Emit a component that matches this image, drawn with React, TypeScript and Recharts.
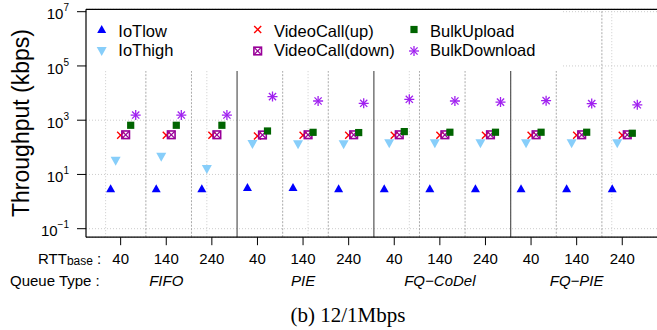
import React from "react"
import { ScatterChart, Scatter, XAxis, YAxis, CartesianGrid, ReferenceLine } from "recharts"

// 4 queue types x 3 base RTTs
const rttLabels = ["40", "140", "240", "40", "140", "240", "40", "140", "240", "40", "140", "240"]
const queueTypes = ["FIFO", "PIE", "FQ\u2212CoDel", "FQ\u2212PIE"]

// throughput in kbps, one value per group
const iotLow = [3.0, 3.0, 3.0, 3.3, 3.3, 3.0, 3.0, 3.0, 3.0, 3.0, 3.0, 3.0]
const iotHigh = [32, 45, 16, 132, 130, 130, 140, 140, 140, 140, 140, 140]
const videoUp = [280, 280, 280, 262, 280, 280, 280, 280, 280, 280, 280, 280]
const videoDown = [290, 290, 290, 285, 290, 290, 290, 290, 290, 290, 290, 290]
const bulkUp = [650, 650, 650, 400, 357, 350, 380, 360, 360, 360, 360, 330]
const bulkDown = [1550, 1550, 1550, 7400, 5100, 4200, 5900, 5100, 4650, 5250, 4100, 3700]

const yTicks = [0.1, 10, 1000, 100000, 10000000]
const xTicks = rttLabels.map((_, i) => i)
const gridX = [-0.33, 1.89, 4.11, 6.33, 8.55, 10.77]

const FONT = '"Liberation Sans", Arial, Helvetica, sans-serif'
const Y_MIN = 0.0486
const Y_MAX = 1.225e7

const TriUp = ({ cx, cy }: any) => (
  <polygon points={`${cx},${cy - 4.5} ${cx - 4.5},${cy + 3.5} ${cx + 4.5},${cy + 3.5}`} fill="#0000ff" />
)
const TriDown = ({ cx, cy }: any) => (
  <polygon points={`${cx - 5},${cy - 4} ${cx + 5},${cy - 4} ${cx},${cy + 5}`} fill="#87cefa" />
)
const Cross = ({ cx, cy }: any) => (
  <g stroke="#ff0000" strokeWidth={1.4}>
    <line x1={cx - 3.5} y1={cy - 3.5} x2={cx + 3.5} y2={cy + 3.5} />
    <line x1={cx - 3.5} y1={cy + 3.5} x2={cx + 3.5} y2={cy - 3.5} />
  </g>
)
const BoxX = ({ cx, cy }: any) => (
  <g stroke="#990099" fill="none">
    <rect x={cx - 3.8} y={cy - 3.8} width={7.6} height={7.6} strokeWidth={1.6} />
    <line x1={cx - 3.8} y1={cy - 3.8} x2={cx + 3.8} y2={cy + 3.8} strokeWidth={1.2} />
    <line x1={cx - 3.8} y1={cy + 3.8} x2={cx + 3.8} y2={cy - 3.8} strokeWidth={1.2} />
  </g>
)
const Square = ({ cx, cy }: any) => <rect x={cx - 3.6} y={cy - 3.6} width={7.2} height={7.2} fill="#006400" />
const Star = ({ cx, cy }: any) => (
  <g stroke="#a020f0" strokeWidth={1.3}>
    <line x1={cx - 5} y1={cy} x2={cx + 5} y2={cy} />
    <line x1={cx} y1={cy - 5} x2={cx} y2={cy + 5} />
    <line x1={cx - 3.6} y1={cy - 3.6} x2={cx + 3.6} y2={cy + 3.6} />
    <line x1={cx - 3.6} y1={cy + 3.6} x2={cx + 3.6} y2={cy - 3.6} />
  </g>
)

const series = [
  { name: "IoTlow", values: iotLow, Shape: TriUp },
  { name: "IoThigh", values: iotHigh, Shape: TriDown },
  { name: "VideoCall(up)", values: videoUp, Shape: Cross },
  { name: "VideoCall(down)", values: videoDown, Shape: BoxX },
  { name: "BulkUpload", values: bulkUp, Shape: Square },
  { name: "BulkDownload", values: bulkDown, Shape: Star },
]

const YTick = ({ x, y, payload }: any) => {
  const exp = Math.round(Math.log10(payload.value))
  return (
    <text x={x} y={y} textAnchor="end" fontFamily={FONT} fill="#000">
      <tspan fontSize={15} dy={7.6}>10</tspan>
      <tspan fontSize={10} dy={-8}>{exp < 0 ? `\u2212${-exp}` : exp}</tspan>
    </text>
  )
}

const XTick = ({ x, payload }: any) => {
  const i = payload.value
  return (
    <g fontFamily={FONT} fill="#000">
      <text x={x} y={263.5} textAnchor="middle" fontSize={15}>{rttLabels[i]}</text>
      {i % 3 === 1 && (
        <text x={x} y={286} textAnchor="middle" fontSize={15} fontStyle="italic">
          {queueTypes[(i - 1) / 3]}
        </text>
      )}
    </g>
  )
}

const legendCols = [
  { sx: 101.7, tx: 118.3 },
  { sx: 257.7, tx: 274 },
  { sx: 414, tx: 430 },
]

export default function App() {
  return (
    <div style={{ position: "absolute", left: 0, top: 0, width: 657, height: 330, overflow: "hidden", background: "#fff" }}>
      <ScatterChart width={680} height={330} margin={{ top: 9.3, right: 16.7, bottom: 62.8, left: 6 }}>
        <CartesianGrid vertical={false} stroke="#cccccc" strokeDasharray="1 2" />
        {gridX.map((g) => (
          <ReferenceLine key={`g${g}`} x={g} stroke="#cccccc" strokeDasharray="1 2" />
        ))}
        {xTicks.slice(0, 11).map((i) =>
          i % 3 === 2 ? (
            <ReferenceLine key={`s${i}`} x={i + 0.553} stroke="#555" strokeWidth={1.2} />
          ) : (
            <ReferenceLine key={`s${i}`} x={i + 0.553} stroke="#aaaaaa" strokeDasharray="2 1.5" />
          )
        )}
        <ReferenceLine y={Y_MAX} stroke="#000" strokeWidth={1.2} />
        <XAxis
          type="number"
          dataKey="x"
          domain={[-0.76, 11.9]}
          ticks={xTicks}
          interval={0}
          allowDataOverflow
          height={30}
          tickSize={8}
          stroke="#000"
          tickLine={{ stroke: "#000" }}
          axisLine={{ stroke: "#000", strokeWidth: 1.2 }}
          tick={<XTick />}
        />
        <YAxis
          type="number"
          dataKey="y"
          scale="log"
          domain={[Y_MIN, Y_MAX]}
          ticks={yTicks}
          interval={0}
          allowDataOverflow
          width={80}
          tickSize={9}
          tickMargin={8}
          stroke="#000"
          tickLine={{ stroke: "#000" }}
          axisLine={{ stroke: "#000", strokeWidth: 1.2 }}
          tick={<YTick />}
        />
        {series.map((s, k) => (
          <Scatter
            key={s.name}
            name={s.name}
            data={s.values.map((v, i) => ({ x: i + (k - 2) * 0.11, y: v }))}
            shape={(p: any) => <s.Shape cx={p.cx} cy={p.cy} />}
            isAnimationActive={false}
          />
        ))}
      </ScatterChart>
      <svg width={657} height={330} style={{ position: "absolute", left: 0, top: 0, pointerEvents: "none" }}>
        <rect x={87} y={10} width={476} height={61} fill="#fff" />
        {series.map((s, k) => {
          const col = legendCols[Math.floor(k / 2)]
          const row = k % 2
          return (
            <g key={s.name}>
              <s.Shape cx={col.sx} cy={row === 0 ? 29.5 : 51} />
              <text x={col.tx} y={row === 0 ? 36.5 : 55.7} fontFamily={FONT} fontSize={16.5} fill="#000">
                {s.name}
              </text>
            </g>
          )
        })}
        <text transform="rotate(-90)" x={-123} y={28.5} textAnchor="middle" fontFamily={FONT} fontSize={23} fill="#000">
          Throughput (kbps)
        </text>
        <text x={38} y={263.5} fontFamily={FONT} fontSize={15} fill="#000">
          RTT<tspan fontSize={12} dy={1.5}>base</tspan>
          <tspan dy={-1.5}> :</tspan>
        </text>
        <text x={10} y={286} fontFamily={FONT} fontSize={15} fill="#000">
          Queue Type :
        </text>
        <text x={348} y={321.5} textAnchor="middle" fontFamily='"Liberation Serif", "Times New Roman", serif' fontSize={21} fill="#000">
          (b) 12/1Mbps
        </text>
      </svg>
    </div>
  )
}
